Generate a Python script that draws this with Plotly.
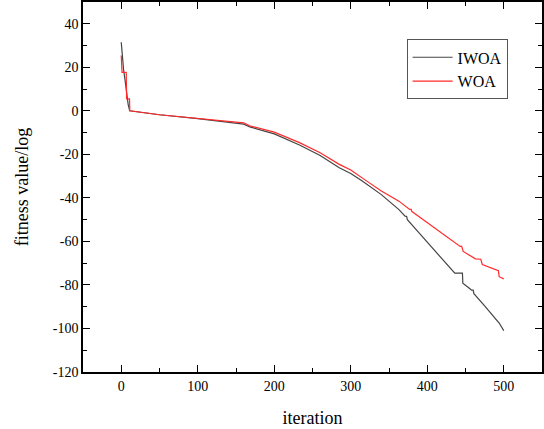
import plotly.graph_objects as go

# IWOA convergence curve (iteration, fitness value/log)
iwoa_iter = [0, 1, 2, 3, 5, 7, 9, 11, 50, 100, 130, 160, 168, 200, 233, 260, 285, 300,
             315, 340, 363, 371, 373, 374, 389, 410, 436, 446, 446.5, 455, 458, 460, 461,
             475, 490, 492, 494, 500]
iwoa_val = [31.5, 27, 22.5, 19, 14, 8, 3, 0, -1.8, -3.6, -4.8, -6.1, -7.4, -10.6, -15.7,
            -20.5, -26.2, -28.8, -32.3, -38.5, -45.4, -48.4, -48.5, -50, -56, -64.3, -74.6,
            -74.6, -79.2, -81.5, -82.4, -82.4, -84, -89.6, -95.8, -96.2, -97.5, -101]

# WOA convergence curve
woa_iter = [0, 1, 6.5, 7, 10.8, 11.2, 50, 100, 130, 160, 168, 200, 233, 260, 285, 300,
            321, 340, 363, 377, 379, 380, 389, 410, 443, 445, 447, 463, 468, 470, 472,
            493, 494, 500]
woa_val = [25.4, 17.7, 17.7, 5.5, 5.5, 0, -1.8, -3.4, -4.3, -5.5, -6.9, -9.8, -14.6,
           -19.3, -24.6, -27.2, -32.3, -36.8, -41.5, -45.3, -45.3, -46.3, -48.6, -53.8,
           -62.3, -62.3, -64.6, -68, -68, -68.2, -70.6, -73.5, -76.2, -77.2]

x_ticks = [0, 100, 200, 300, 400, 500]
x_tick_labels = ["0", "100", "200", "300", "400", "500"]
y_ticks = [40, 20, 0, -20, -40, -60, -80, -100, -120]
y_tick_labels = ["40", "20", "0", "-20", "-40", "-60", "-80", "-100", "-120"]

font_family = "Liberation Serif, Times New Roman, serif"

fig = go.Figure()
fig.add_trace(go.Scatter(x=iwoa_iter, y=iwoa_val, mode="lines", name="IWOA",
                         line=dict(color="#444444", width=1.2)))
fig.add_trace(go.Scatter(x=woa_iter, y=woa_val, mode="lines", name="WOA",
                         line=dict(color="#ff2a2a", width=1.2)))

axis_common = dict(
    showline=True, linecolor="black", linewidth=1.5, mirror="allticks",
    ticks="inside", ticklen=7, tickwidth=1.2, tickcolor="black",
    showgrid=False, zeroline=False, automargin=False,
    tickfont=dict(family=font_family, size=14, color="black"),
)

fig.update_xaxes(**axis_common, range=[-50, 550], tickvals=x_ticks, ticktext=x_tick_labels,
                 minor=dict(ticks="inside", ticklen=4, dtick=50, tick0=0,
                            tickcolor="black", tickwidth=1),
                 title=dict(text="iteration", font=dict(family=font_family, size=18, color="black"),
                            standoff=19))
fig.update_yaxes(**axis_common, range=[-120, 50], tickvals=y_ticks, ticktext=y_tick_labels,
                 minor=dict(ticks="inside", ticklen=4, dtick=10, tick0=0,
                            tickcolor="black", tickwidth=1),
                 title=dict(text="fitness value/log", font=dict(family=font_family, size=18, color="black"),
                            standoff=19))

fig.update_layout(
    width=544, height=429,
    margin=dict(l=83, r=2, t=2, b=57, autoexpand=False),
    paper_bgcolor="white", plot_bgcolor="white",
    showlegend=True,
    legend=dict(x=0.705, y=0.899, xanchor="left", yanchor="top",
                bordercolor="#555555", borderwidth=1, bgcolor="white",
                font=dict(family=font_family, size=16, color="black"),
                itemwidth=40, tracegroupgap=0),
)

fig.write_html("out.html", config={"displayModeBar": False},
               post_script="document.body.style.margin='0';document.body.style.overflow='hidden';")
